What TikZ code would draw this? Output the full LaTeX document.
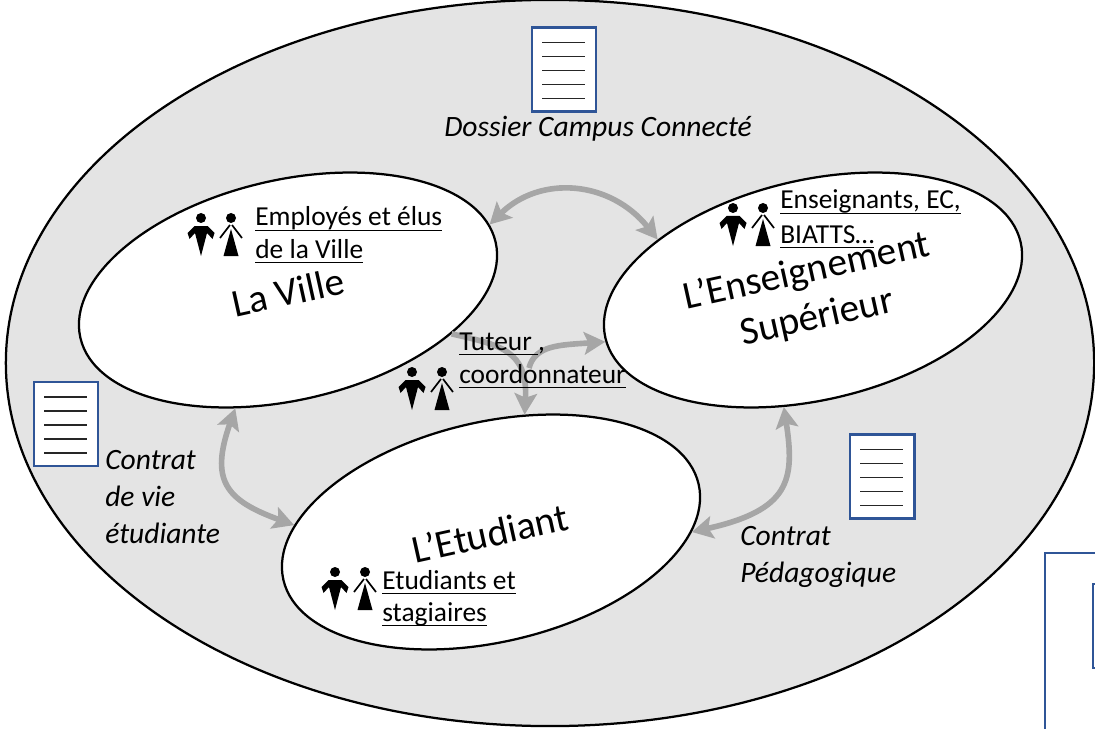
\documentclass[tikz,border=0pt]{standalone}
\usepackage{fontspec}
\setmainfont{Carlito}
\usetikzlibrary{arrows.meta,shapes.geometric}

\definecolor{campusgray}{HTML}{E4E4E4}
\definecolor{docblue}{HTML}{2F5597}
\definecolor{linkgray}{HTML}{A6A6A6}

\newcommand{\crewline}[1]{\setbox0\hbox{#1}\rlap{\rule[-3.6pt]{\wd0}{1.1pt}}\box0}

\tikzset{
  actor/.style={draw=black, line width=1.6pt, fill=white, ellipse, rotate=13, inner sep=0pt,
    minimum width=10.65cm, minimum height=5.5cm},
  actorname/.style={rotate=12.5, inner sep=0pt, align=center, font=\fontsize{28}{33.5}\selectfont},
  docbox/.style={draw=docblue, line width=2.1pt, fill=white},
  docline/.style={draw=black!85, line width=1.1pt},
  link/.style={draw=linkgray, line width=4pt, {Stealth[length=15pt,width=16pt,inset=3pt]}-{Stealth[length=15pt,width=16pt,inset=3pt]}},
  linkend/.style={draw=linkgray, line width=4pt, -{Stealth[length=15pt,width=16pt,inset=3pt]}},
  crew/.style={anchor=base west, inner sep=0pt, font=\fontsize{19.5}{24}\selectfont},
  contract/.style={anchor=north west, inner sep=0pt, align=left, font=\fontsize{21}{26.2}\selectfont\itshape},
  people/.pic={
    % man
    \fill (0,0) circle (5);
    \fill (-13.5,15) -- (-6.5,8) -- (6.5,8) -- (13.5,15) -- (11.5,21) -- (6,15) -- (0,38) -- (-6,15) -- (-11.5,21) -- cycle;
    % woman
    \fill (30,0) circle (5);
    \fill (30,11) -- (37.5,38) -- (22.5,38) -- cycle;
    \draw[line width=1.2pt] (29,7) -- (19,20) (31,7) -- (41,20);
  }
}

\begin{document}
\begin{tikzpicture}[x=0.025cm, y=-0.025cm]

\clip (0,0) rectangle (1095,728);

% ======================
% Campus
% ======================
\fill[white] (0,0) rectangle (1095,728);
\node[draw=black, line width=1.6pt, fill=campusgray, ellipse, inner sep=0pt,
  minimum width=27.2cm, minimum height=18.15cm] (campus) at (550,363) {};

% ======================
% Actors
% ======================
\node[actor] (ville) at (288,290) {};
\node[actor] (sup) at (813,290) {};
\node[actor] (etudiant) at (491,532) {};

\node[actorname] (villename) at (288,292) {La Ville};
\node[actorname] (supname) at (812,295) {L’Enseignement\\Supérieur};
\node[actorname] (etudiantname) at (490,533) {L’Etudiant};

% ======================
% Links
% ======================
\coordinate (tutjoin) at (529,368);

\draw[link] (ville.5) .. controls (540,175) and (610,180) .. (sup.149);
\draw[link] (ville.233) .. controls (210,480) and (225,500) .. (etudiant.165);
\draw[link] (sup.243) .. controls (795,480) and (790,510) .. (etudiant.347);

\draw[linkend] (ville.332) .. controls (500,345) and (528,350) .. (etudiant.61);
\draw[linkend] (tutjoin) .. controls (535,345) and (560,345) .. (sup.181);

% ======================
% Documents
% ======================
\foreach \docname/\docx/\docy in {dossier/564/69.5, vie/66/424, peda/882/476.5} {
  \node[docbox, minimum width=1.6cm, minimum height=2.1cm, inner sep=0pt] (\docname) at (\docx,\docy) {};
  \foreach \liney in {-27,-13,1,15,29} {
    \draw[docline] (\docx-22,\docy+\liney) -- (\docx+21,\docy+\liney);
  }
}

% cut by the edge of the page
\draw[docbox] (1045,553) rectangle (1150,760);
\draw[docbox] (1093,584) rectangle (1150,668);

\node[anchor=base, font=\fontsize{21}{24}\selectfont\itshape] (dossierlabel) at (598,137) {Dossier Campus Connecté};
\node[contract] (vielabel) at (105,450) {Contrat\\de vie\\étudiante};
\node[contract] (pedalabel) at (740,526) {Contrat\\Pédagogique};

% ======================
% People
% ======================
\pic at (201,218) {people};
\pic at (733,208) {people};
\pic at (412,372) {people};
\pic at (335,572) {people};

\node[crew] (villecrewa) at (255,226) {\crewline{Employés et élus}};
\node[crew] (villecrewb) at (255,258) {\crewline{de la Ville}};
\node[crew] (supcrewa) at (780,209) {\crewline{Enseignants, EC,}};
\node[crew] (supcrewb) at (780,243) {\crewline{BIATTS…}};
\node[crew] (tutcrewa) at (459,350) {\crewline{Tuteur },};
\node[crew] (tutcrewb) at (459,383) {\crewline{coordonnateur}};
\node[crew] (etucrewa) at (382,589) {\crewline{Etudiants et}};
\node[crew] (etucrewb) at (382,621) {\crewline{stagiaires}};

\end{tikzpicture}
\end{document}
